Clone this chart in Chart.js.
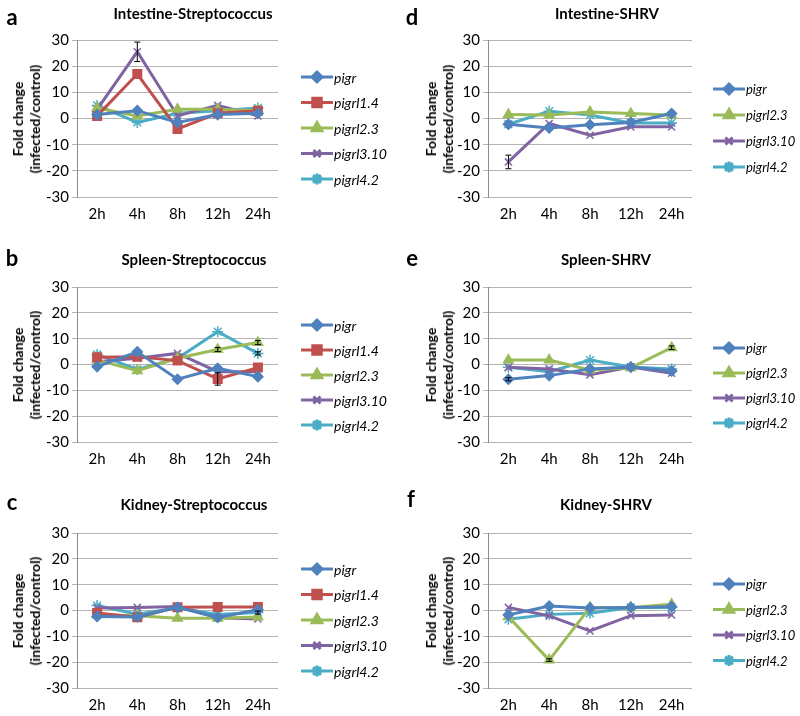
<!DOCTYPE html>
<html>
<head>
<meta charset="utf-8">
<script src="https://cdn.jsdelivr.net/npm/chart.js@4/dist/chart.umd.min.js"></script>
<style>
  body { margin: 0; background: #fff; }
  #fig { position: relative; width: 800px; height: 716px; overflow: hidden; font-family: Lato, "Open Sans", sans-serif; }
  canvas { position: absolute; }
  .letter { position: absolute; font-weight: bold; font-size: 22px; transform: translate(-50%, -50%); }
  .title { position: absolute; font-weight: bold; font-size: 15px; transform: translate(-50%, -50%); white-space: nowrap; }
  .ytitle { position: absolute; font-weight: bold; font-size: 14px; line-height: 17px; text-align: center;
            white-space: nowrap; transform: translate(-50%, -50%) rotate(-90deg); }
</style>
</head>
<body>
<div id="fig"></div>
<script>
/* ===== DATA ===== */
const hours = ["2h", "4h", "8h", "12h", "24h"];
const yTicks = [-30, -20, -10, 0, 10, 20, 30];
const genesStrep = ["pigr", "pigrl1.4", "pigrl2.3", "pigrl3.10", "pigrl4.2"];
const genesSHRV = ["pigr", "pigrl2.3", "pigrl3.10", "pigrl4.2"];

// rows follow the gene lists above
const intestineStrep = [
  [1.5, 3, -1.5, 1.5, 2],
  [1, 17, -4, 2, 3],
  [4, 1, 3.5, 3.5, 3],
  [3.5, 25.5, 1, 5, 1],
  [5, -1.5, 2, 3, 4]
];
const intestineStrepErr = [null, null, null, [0, 3.7, 0, 0, 0], null];

const spleenStrep = [
  [-0.8, 4.9, -5.7, -1.5, -4.7],
  [2.8, 3, 1.5, -5.6, -1.2],
  [1.7, -2.4, 2.4, 5.8, 8.5],
  [1.1, 2.4, 4.3, -2.8, -2.8],
  [3.9, -1.9, 2.4, 12.7, 4.3]
];
const spleenStrepErr = [null, [0, 0, 0, 2.4, 0], [0, 0, 0, 0.8, 0.8], null, [0, 0, 0, 0, 0.6]];

const kidneyStrep = [
  [-2.3, -2.5, 1.2, -2.7, 0.3],
  [-1, -2.6, 1.3, 1.4, 1.4],
  [-1.6, -2, -3, -3, -2.5],
  [1, 1.2, 1.5, -2.8, -3.3],
  [1.9, -1.4, 1.1, -1.5, -0.8]
];
const kidneyStrepErr = [null, null, null, null, [0, 0, 0, 0, 0.6]];

const intestineSHRV = [
  [-2.2, -3.6, -2.4, -1.5, 1.9],
  [1.5, 1.3, 2.5, 1.9, 1.3],
  [-16.6, -1.9, -6.4, -3.2, -3.2],
  [-2.2, 2.8, 1.3, -1.7, -1.7]
];
const intestineSHRVErr = [null, null, [2.6, 0, 0, 0, 0], null];

const spleenSHRV = [
  [-5.7, -4.3, -1.7, -1, -2.5],
  [1.7, 1.7, -2.1, -1.3, 6.5],
  [-1.1, -1.7, -4, -1, -3.4],
  [-1.1, -2.8, 1.7, -1, -1.7]
];
const spleenSHRVErr = [[0.6, 0, 0, 0, 0], [0, 0, 0, 0, 0.7], null, null];

const kidneySHRV = [
  [-1.7, 1.7, 1, 1.2, 1.5],
  [-2.4, -19.2, 1.2, 1.2, 2.4],
  [1.2, -2.1, -7.9, -2, -1.7],
  [-3.4, -1.5, -1.1, 1.2, 1.2]
];
const kidneySHRVErr = [null, [0, 0.5, 0, 0, 0], null, null];

/* ===== STYLES ===== */
const geneStyle = {
  "pigr":      { color: "#4f81bd", point: "rectRot",  r: 5 },
  "pigrl1.4":  { color: "#c0504d", point: "rect",     r: 6 },
  "pigrl2.3":  { color: "#9bbb59", point: "triangle", r: 5.5 },
  "pigrl3.10": { color: "#8064a2", point: "crossRot", r: 5 },
  "pigrl4.2":  { color: "#4bacc6", point: "star",     r: 5.5 }
};

const panels = [
  { letter: "a", title: "Intestine-Streptococcus", genes: genesStrep, values: intestineStrep, err: intestineStrepErr,
    cx: 0, cy: 0, h: 238, plot: [77, 40, 278, 197], letterPos: [12, 16], titlePos: [193, 13], yTitleX: 26,
    legend: [301, 77, 25.5], legendFont: 14 },
  { letter: "b", title: "Spleen-Streptococcus", genes: genesStrep, values: spleenStrep, err: spleenStrepErr,
    cx: 0, cy: 238, h: 238, plot: [77, 287, 278, 442], letterPos: [12, 257], titlePos: [194, 259], yTitleX: 26,
    legend: [301, 325, 25], legendFont: 14 },
  { letter: "c", title: "Kidney-Streptococcus", genes: genesStrep, values: kidneyStrep, err: kidneyStrepErr,
    cx: 0, cy: 476, h: 240, plot: [77, 533, 278, 688], letterPos: [12, 501], titlePos: [194, 504], yTitleX: 26,
    legend: [301, 569, 25.5], legendFont: 14 },
  { letter: "d", title: "Intestine-SHRV", genes: genesSHRV, values: intestineSHRV, err: intestineSHRVErr,
    cx: 400, cy: 0, h: 238, plot: [488, 40, 692, 197], letterPos: [412, 16], titlePos: [607, 13], yTitleX: 439,
    legend: [713, 89, 26], legendFont: 13 },
  { letter: "e", title: "Spleen-SHRV", genes: genesSHRV, values: spleenSHRV, err: spleenSHRVErr,
    cx: 400, cy: 238, h: 238, plot: [488, 287, 692, 442], letterPos: [412, 257], titlePos: [606, 259], yTitleX: 439,
    legend: [713, 348, 25], legendFont: 13 },
  { letter: "f", title: "Kidney-SHRV", genes: genesSHRV, values: kidneySHRV, err: kidneySHRVErr,
    cx: 400, cy: 476, h: 240, plot: [488, 533, 692, 688], letterPos: [411, 498], titlePos: [606, 504], yTitleX: 439,
    legend: [713, 584, 25.5], legendFont: 13 }
];

/* ===== PLUGINS ===== */
const errorBars = {
  id: "errorBars",
  afterDatasetsDraw(chart, args, opts) {
    const ctx = chart.ctx, ys = chart.scales.y;
    chart.data.datasets.forEach((ds, i) => {
      if (!ds.err) return;
      const meta = chart.getDatasetMeta(i);
      ds.err.forEach((e, j) => {
        if (!e) return;
        const x = meta.data[j].x;
        const y1 = ys.getPixelForValue(ds.data[j] + e);
        const y2 = ys.getPixelForValue(ds.data[j] - e);
        ctx.save();
        ctx.strokeStyle = "#000";
        ctx.lineWidth = 1;
        ctx.beginPath();
        ctx.moveTo(x, y1); ctx.lineTo(x, y2);
        ctx.moveTo(x - 3, y1); ctx.lineTo(x + 3, y1);
        ctx.moveTo(x - 3, y2); ctx.lineTo(x + 3, y2);
        ctx.stroke();
        ctx.restore();
      });
    });
  }
};

const sideLegend = {
  id: "sideLegend",
  afterDraw(chart, args, opts) {
    const ctx = chart.ctx;
    const [lx, ly, step] = opts.pos;
    chart.data.datasets.forEach((ds, i) => {
      const x = lx - opts.cx, y = ly + i * step - opts.cy;
      ctx.save();
      ctx.strokeStyle = ds.borderColor;
      ctx.lineWidth = 3;
      ctx.beginPath();
      ctx.moveTo(x, y); ctx.lineTo(x + 32, y);
      ctx.stroke();
      ctx.fillStyle = ds.borderColor;
      ctx.strokeStyle = ds.borderColor;
      Chart.helpers.drawPoint(ctx, {
        pointStyle: ds.pointStyle, radius: ds.pointRadius, rotation: 0, borderWidth: 1.5
      }, x + 16, y);
      ctx.fillStyle = "#000";
      ctx.font = "italic " + opts.size + "px Lato, 'Open Sans', sans-serif";
      ctx.textBaseline = "middle";
      ctx.fillText(ds.label, x + 33, y + 1);
      ctx.restore();
    });
  }
};

/* ===== BUILD ===== */
const fig = document.getElementById("fig");

panels.forEach(p => {
  const [left, top, right, bottom] = p.plot;

  const cv = document.createElement("canvas");
  cv.width = 400; cv.height = p.h;
  cv.style.left = p.cx + "px"; cv.style.top = p.cy + "px";
  fig.appendChild(cv);

  const lt = document.createElement("div");
  lt.className = "letter"; lt.textContent = p.letter;
  lt.style.left = p.letterPos[0] + "px"; lt.style.top = p.letterPos[1] + "px";
  fig.appendChild(lt);

  const tt = document.createElement("div");
  tt.className = "title"; tt.textContent = p.title;
  tt.style.left = p.titlePos[0] + "px"; tt.style.top = p.titlePos[1] + "px";
  fig.appendChild(tt);

  const yt = document.createElement("div");
  yt.className = "ytitle"; yt.innerHTML = "Fold change<br>(infected/control)";
  yt.style.left = p.yTitleX + "px"; yt.style.top = ((top + bottom) / 2) + "px";
  fig.appendChild(yt);

  new Chart(cv, {
    type: "line",
    data: {
      labels: hours,
      datasets: p.genes.map((g, i) => ({
        label: g,
        data: p.values[i],
        err: p.err[i],
        borderColor: geneStyle[g].color,
        backgroundColor: geneStyle[g].color,
        pointBackgroundColor: geneStyle[g].color,
        pointBorderColor: geneStyle[g].color,
        pointStyle: geneStyle[g].point,
        pointRadius: geneStyle[g].r,
        pointBorderWidth: 1.5,
        borderWidth: 3,
        tension: 0
      }))
    },
    options: {
      responsive: false,
      animation: false,
      devicePixelRatio: 1,
      layout: { padding: { left: 0, top: top - p.cy, right: p.cx + 400 - right, bottom: 0 } },
      plugins: {
        legend: { display: false },
        tooltip: { enabled: false },
        sideLegend: { pos: p.legend, cx: p.cx, cy: p.cy, size: p.legendFont }
      },
      scales: {
        x: {
          offset: true,
          grid: { display: false, drawTicks: false },
          border: { display: false },
          ticks: { color: "#000", font: { size: 15, family: "Lato" }, padding: 8 },
          afterFit: s => { s.height = p.cy + p.h - bottom; }
        },
        y: {
          min: -30, max: 30,
          afterBuildTicks: s => { s.ticks = yTicks.map(v => ({ value: v })); },
          grid: { color: "#b4b4b4", lineWidth: 1, tickLength: 5 },
          border: { display: true, color: "#8c8c8c", width: 1 },
          ticks: { color: "#000", font: { size: 15, family: "Lato" }, padding: 3 },
          afterFit: s => { s.width = left - p.cx; }
        }
      }
    },
    plugins: [errorBars, sideLegend]
  });
});
</script>
</body>
</html>
